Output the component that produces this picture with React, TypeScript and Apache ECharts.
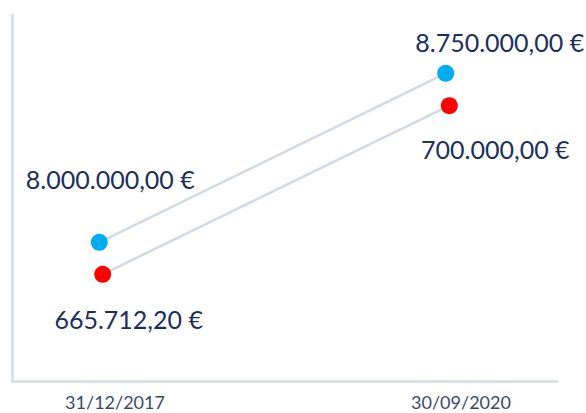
import React, { useEffect, useRef } from "react";
import * as echarts from "echarts";

const dates = ["31/12/2017", "30/09/2020"];
const blueValues = [8000000, 8750000];
const redValues = [665712.2, 700000];

const fmt = (v: number) => {
  const [i, d] = v.toFixed(2).split(".");
  return i.replace(/\B(?=(\d{3})+(?!\d))/g, ".") + "," + d + " €";
};

export default function App() {
  const ref = useRef<HTMLDivElement>(null);
  useEffect(() => {
    const chart = echarts.init(ref.current!, null, { renderer: "svg" });
    const labelBase = {
      show: true,
      position: "inside",
      align: "center",
      verticalAlign: "middle",
      fontFamily: "Lato",
      fontSize: 25,
      color: "#1c2f5c",
      formatter: (p: any) => fmt(p.value[1]),
    };
    const blueOffsets = [[11, -63], [54, -31]];
    const redOffsets = [[26, 45], [46, 43]];
    chart.setOption({
      animation: false,
      grid: { left: 12, right: 29, top: 15, bottom: 32 },
      xAxis: [
        {
          type: "value",
          min: -0.2977,
          max: 1.2775,
          axisLine: { show: true, onZero: false, lineStyle: { color: "#d6dce6", width: 2.5 } },
          axisTick: { show: false },
          splitLine: { show: false },
          axisLabel: {
            customValues: [0, 1],
            formatter: (v: number) => dates[Math.round(v)] ?? "",
            color: "#3a4a6b",
            fontFamily: "Lato",
            fontSize: 18,
            margin: 12,
          },
        },
        { type: "value", min: -0.252, max: 1.3213, show: false },
        { type: "value", min: -0.2617, max: 1.3107, show: false },
      ],
      yAxis: [
        {
          type: "value",
          min: 7384467,
          max: 9008728,
          axisLine: { show: true, onZero: false, lineStyle: { color: "#d6dce6", width: 2.5 } },
          axisTick: { show: false },
          axisLabel: { show: false },
          splitLine: { show: false },
        },
        { type: "value", min: 644012, max: 718446, show: false },
      ],
      series: [
        {
          type: "line",
          xAxisIndex: 1,
          yAxisIndex: 0,
          symbol: "circle",
          symbolSize: 17,
          itemStyle: { color: "#00aeef" },
          lineStyle: { color: "#d3d9e3", width: 2.5 },
          data: blueValues.map((v, i) => ({
            value: [i, v],
            label: { ...labelBase, offset: blueOffsets[i] },
          })),
          z: 3,
        },
        {
          type: "line",
          xAxisIndex: 2,
          yAxisIndex: 1,
          symbol: "circle",
          symbolSize: 17,
          itemStyle: { color: "#ff0000" },
          lineStyle: { color: "#d3d9e3", width: 2.5 },
          data: redValues.map((v, i) => ({
            value: [i, v],
            label: { ...labelBase, offset: redOffsets[i] },
          })),
          z: 3,
        },
      ],
    });
    return () => chart.dispose();
  }, []);
  return <div ref={ref} style={{ width: 586, height: 413, position: "absolute", left: 0, top: 0 }} />;
}
